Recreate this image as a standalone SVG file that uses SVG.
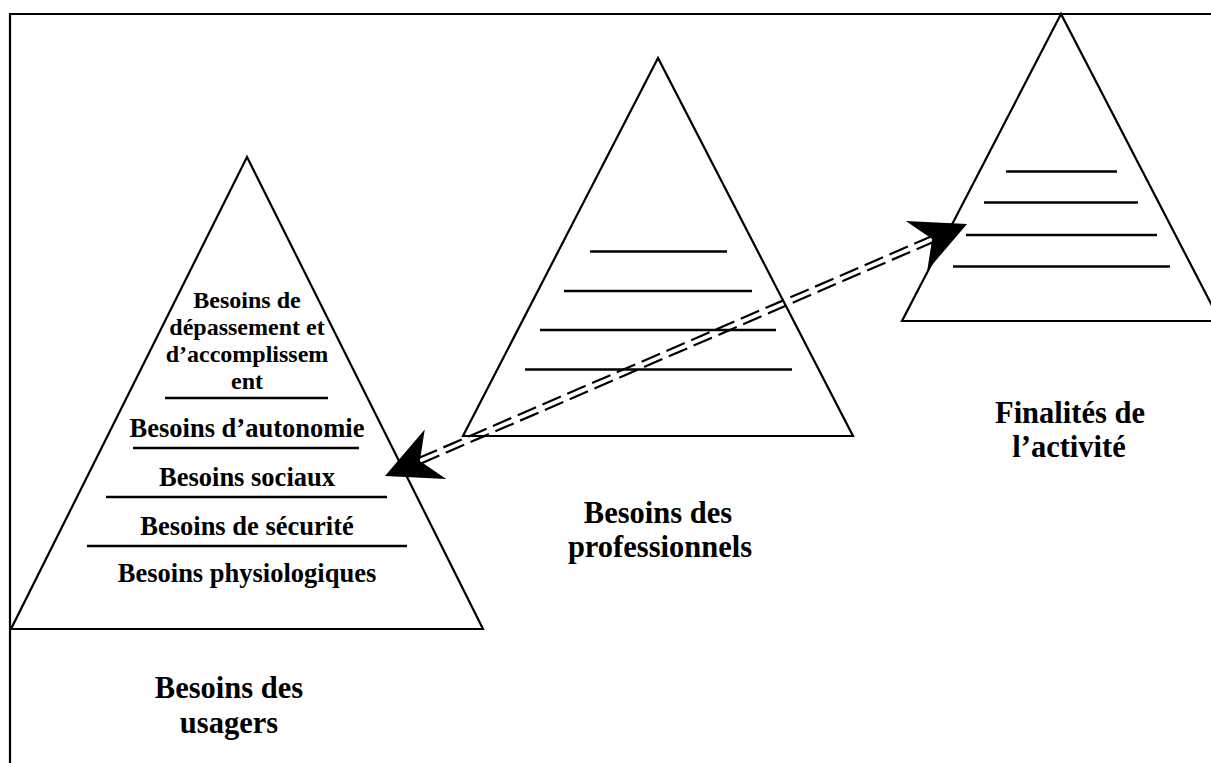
<svg xmlns="http://www.w3.org/2000/svg" width="1211" height="763" viewBox="0 0 1211 763">
<style>
.tri{fill:none;stroke:#000;stroke-width:2.2;stroke-linejoin:miter}
.lvl{stroke:#000;stroke-width:2.6}
.frame{fill:none;stroke:#000;stroke-width:2.2}
text{font-family:"Liberation Serif","Times New Roman",serif;font-weight:bold;fill:#000;text-anchor:middle}
.t1{font-size:24px}
.t2{font-size:26.5px}
.lab{font-size:30.5px}
.dash{stroke:#000;stroke-width:2.2;stroke-dasharray:20 7;fill:none}
</style>
<defs>
<path id="head" d="M0,0 L-55,-27 L-38,0 L-55,27 Z" fill="#000"/>
</defs>
<rect width="1211" height="763" fill="#fff"/>
<path class="frame" d="M10,763 V14 H1211"/>

<g id="node-usagers">
<polygon class="tri" points="247,157 11,629 483,629"/>
<line class="lvl" x1="165" y1="398" x2="328" y2="398"/>
<line class="lvl" x1="133" y1="448" x2="359" y2="448"/>
<line class="lvl" x1="106" y1="497" x2="387" y2="497"/>
<line class="lvl" x1="87" y1="546" x2="407" y2="546"/>
<text class="t1" x="247" y="308">Besoins de</text>
<text class="t1" x="247" y="335">dépassement et</text>
<text class="t1" x="247" y="362">d’accomplissem</text>
<text class="t1" x="247" y="389">ent</text>
<text class="t2" x="247" y="437">Besoins d’autonomie</text>
<text class="t2" x="247" y="486">Besoins sociaux</text>
<text class="t2" x="247" y="535">Besoins de sécurité</text>
<text class="t2" x="247" y="582">Besoins physiologiques</text>
<text class="lab" x="229" y="698">Besoins des</text>
<text class="lab" x="229" y="733">usagers</text>
</g>

<g id="node-professionnels">
<polygon class="tri" points="658,58 463,436 853,436"/>
<line class="lvl" x1="590" y1="251.5" x2="727" y2="251.5"/>
<line class="lvl" x1="564" y1="291" x2="752" y2="291"/>
<line class="lvl" x1="540" y1="330" x2="776" y2="330"/>
<line class="lvl" x1="525" y1="369.5" x2="792" y2="369.5"/>
<text class="lab" x="658" y="523">Besoins des</text>
<text class="lab" x="660" y="557">professionnels</text>
</g>

<g id="node-finalites">
<polygon class="tri" points="1061,14 902,321 1220,321"/>
<line class="lvl" x1="1006" y1="171.5" x2="1117" y2="171.5"/>
<line class="lvl" x1="984" y1="202.5" x2="1138" y2="202.5"/>
<line class="lvl" x1="966" y1="235" x2="1157" y2="235"/>
<line class="lvl" x1="953" y1="266.5" x2="1170" y2="266.5"/>
<text class="lab" x="1070" y="423">Finalités de</text>
<text class="lab" x="1069" y="457">l’activité</text>
</g>

<g id="connectors">
<line class="dash" x1="421" y1="463.5" x2="933.4" y2="241.9"/>
<line class="dash" x1="418.6" y1="458.1" x2="931" y2="236.5"/>
<use href="#head" transform="translate(385,476) rotate(156.6)"/>
<use href="#head" transform="translate(967,224) rotate(-23.4)"/>
</g>
</svg>
